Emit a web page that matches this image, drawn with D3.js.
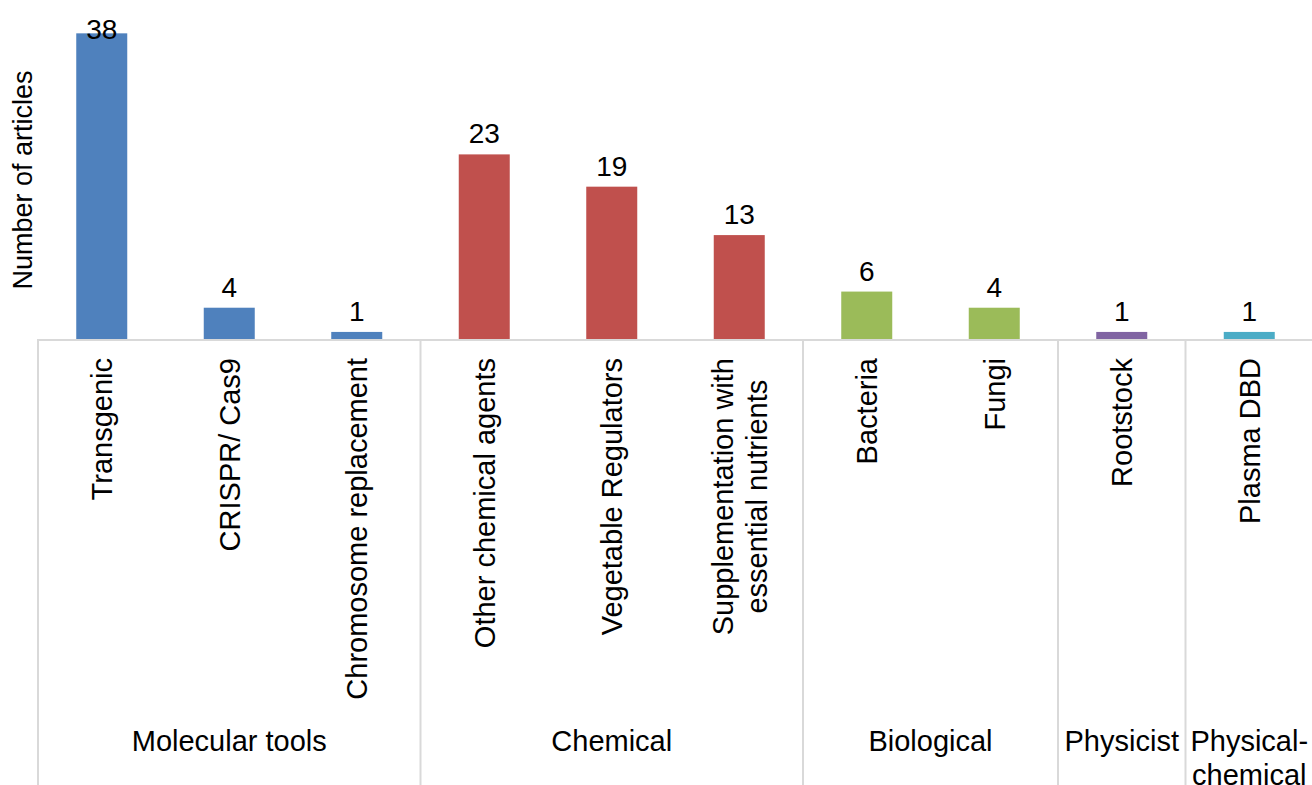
<!DOCTYPE html>
<html>
<head>
  <meta charset="utf-8">
  <style>
    body { margin: 0; background: #fff; }
    svg { display: block; font-family: "Liberation Sans", Arial, sans-serif; }
  </style>
</head>
<body>
<svg width="1312" height="785"></svg>
<script src="https://d3js.org/d3.v7.min.js"></script>
<script>

// data
var categories = ["Transgenic", "CRISPR/ Cas9", "Chromosome replacement",
                  "Other chemical agents", "Vegetable Regulators", "Supplementation with essential nutrients",
                  "Bacteria", "Fungi", "Rootstock", "Plasma DBD"];
var values = [38, 4, 1, 23, 19, 13, 6, 4, 1, 1];
var groupNames = ["Molecular tools", "Chemical", "Biological", "Physicist", "Physical-chemical"];
var groupSizes = [3, 3, 2, 1, 1];
var groupColors = ["#4F81BD", "#C0504D", "#9BBB59", "#8064A2", "#4BACC6"];

var svg = d3.select("svg"),
    width = +svg.attr("width"),
    height = +svg.attr("height");

var left = 38, right = 1313, base = 340;
var gridColor = "#d9d9d9";

// which group each bar belongs to
var groupOf = [];
groupSizes.forEach(function(n, g) { for (var i = 0; i < n; i++) groupOf.push(g); });

var x = d3.scaleBand().domain(categories).range([left, right]).paddingInner(0).paddingOuter(0);
var y = d3.scaleLinear().domain([0, 40]).range([base, base - 40 * 8.07]);
var barW = x.bandwidth() * 0.4;

// split text into lines no wider than maxW (breaks at spaces and after hyphens)
function wrap(textSel, str, maxW) {
  var tokens = str.split(/(?<=[\s-])/), lines = [], cur = "";
  tokens.forEach(function(t) {
    var test = cur + t;
    textSel.text(test.trim());
    if (cur && textSel.node().getComputedTextLength() > maxW) {
      lines.push(cur.trim());
      cur = t;
    } else {
      cur = test;
    }
  });
  lines.push(cur.trim());
  textSel.text(null);
  return lines;
}

// bars
svg.append("g").selectAll("rect")
  .data(values)
  .enter().append("rect")
    .attr("x", function(d, i) { return x(categories[i]) + (x.bandwidth() - barW) / 2; })
    .attr("y", function(d) { return y(d); })
    .attr("width", barW)
    .attr("height", function(d) { return base - y(d); })
    .attr("fill", function(d, i) { return groupColors[groupOf[i]]; });

// value labels
svg.append("g").selectAll("text")
  .data(values)
  .enter().append("text")
    .attr("x", function(d, i) { return x(categories[i]) + x.bandwidth() / 2; })
    .attr("y", function(d) { return Math.max(y(d) - 11, 39); })
    .attr("text-anchor", "middle")
    .attr("font-size", 28)
    .attr("fill", "#000")
    .text(function(d) { return d; });

// category axis line and group separators
svg.append("line")
  .attr("x1", left - 1).attr("x2", width)
  .attr("y1", base).attr("y2", base)
  .attr("stroke", gridColor).attr("stroke-width", 2);

var bounds = [0];
groupSizes.forEach(function(n, g) { bounds.push(bounds[g] + n); });

svg.append("g").selectAll("line")
  .data(bounds)
  .enter().append("line")
    .attr("x1", function(b) { return left + b * x.step(); })
    .attr("x2", function(b) { return left + b * x.step(); })
    .attr("y1", base).attr("y2", height)
    .attr("stroke", gridColor).attr("stroke-width", 2);

// rotated category labels
var catLabels = svg.append("g").selectAll("text")
  .data(categories)
  .enter().append("text")
    .attr("font-size", 29)
    .attr("fill", "#000")
    .attr("text-anchor", "middle");

catLabels.each(function(d) {
  var t = d3.select(this);
  var lines = wrap(t, d, 350);
  var lineH = 34;
  var longest = 0;
  lines.forEach(function(l) {
    t.text(l);
    longest = Math.max(longest, t.node().getComputedTextLength());
  });
  t.text(null);
  var cx = x(d) + x.bandwidth() / 2;
  var cy = 358 + longest / 2;
  t.attr("transform", "translate(" + cx + "," + cy + ") rotate(-90)");
  lines.forEach(function(l, k) {
    t.append("tspan")
      .attr("x", 0)
      .attr("y", (k - (lines.length - 1) / 2) * lineH)
      .attr("dy", "0.36em")
      .text(l);
  });
});

// group labels
svg.append("g").selectAll("text")
  .data(groupNames)
  .enter().append("text")
    .attr("font-size", 29)
    .attr("fill", "#000")
    .attr("text-anchor", "middle")
    .each(function(d, g) {
      var t = d3.select(this);
      var x0 = left + bounds[g] * x.step(), x1 = left + bounds[g + 1] * x.step();
      var lines = wrap(t, d, x1 - x0 - 4);
      lines.forEach(function(l, k) {
        t.append("tspan")
          .attr("x", (x0 + x1) / 2)
          .attr("y", 751 + k * 34)
          .text(l);
      });
    });

// y axis title
svg.append("text")
  .attr("transform", "translate(32,180) rotate(-90)")
  .attr("text-anchor", "middle")
  .attr("font-size", 27)
  .attr("fill", "#000")
  .text("Number of articles");

</script>
</body>
</html>
